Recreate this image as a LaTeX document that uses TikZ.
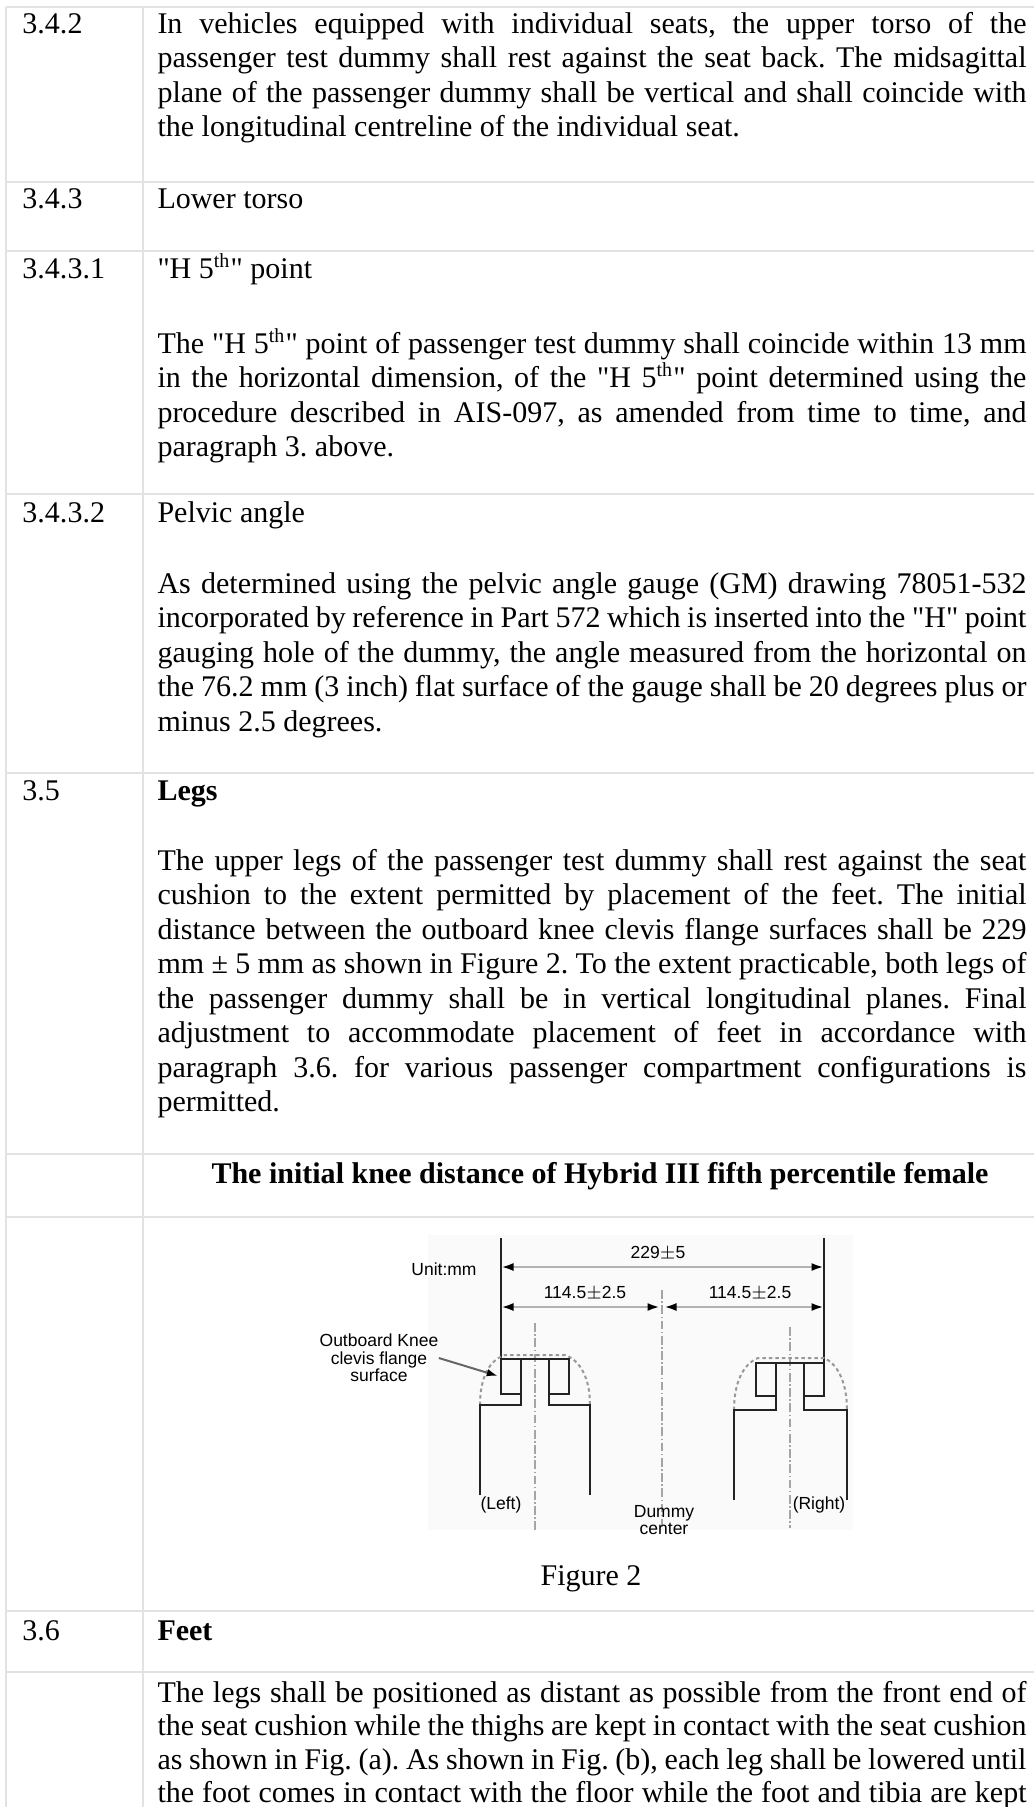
\documentclass[tikz,border=0pt]{standalone}
\usepackage{fontspec}
\setmainfont{Liberation Serif}
\newfontfamily\plainserif{Liberation Serif}
\newfontfamily\figlabelfont{Liberation Sans}
\usetikzlibrary{arrows.meta}
\definecolor{rulegray}{RGB}{226,226,226}
\definecolor{figbg}{RGB}{250,250,250}
\definecolor{dimgray}{RGB}{178,178,178}
\definecolor{cengray}{RGB}{165,165,165}
\definecolor{ink}{RGB}{35,35,35}
\newcommand\refbodyfont{\plainserif\fontsize{12}{13.8}\selectfont\frenchspacing\tolerance=10000 \hyphenpenalty=10000 }
\newcommand\refbodyfonttight{\plainserif\fontsize{12}{13.4}\selectfont\frenchspacing\tolerance=10000 \hyphenpenalty=10000 }
\begin{document}
\begin{tikzpicture}[x=0.4pt,y=-0.4pt,
  rowline/.style={draw=rulegray,line width=0.8pt},
  num/.style={anchor=base west,inner sep=0pt,font=\refbodyfont},
  body/.style={anchor=base west,inner sep=0pt,text width=347.6pt,align=justify,font=\refbodyfont},
  lbl/.style={inner sep=0pt,font=\figlabelfont\fontsize{7}{7}\selectfont,text=black},
  ext/.style={draw=ink,line width=0.9pt},
  knee/.style={draw=ink,line width=1pt},
  dimln/.style={draw=dimgray,line width=1pt,arrows={Latex[length=5pt,width=3.2pt,color=black]-Latex[length=5pt,width=3.2pt,color=black]}},
  cenln/.style={draw=cengray,line width=0.8pt,dash pattern=on 3.5pt off 1pt on 0.6pt off 1pt},
  arcln/.style={draw=gray!80,line width=0.8pt,dash pattern=on 1.4pt off 1.2pt},
  leader/.style={draw=gray!80!black,line width=0.8pt,arrows={-Latex[length=4.5pt,width=3pt,color=black]}}]
\useasboundingbox (0,0) rectangle (1034,1807);
\fill[white] (0,0) rectangle (1034,1807);

% ---------- table rules ----------
\foreach \yy in {7,182,251,494,773,1154,1217,1611,1672}
  \draw[rowline] (6,\yy) -- (1034,\yy);
\draw[rowline] (6,7) -- (6,1807);
\draw[rowline] (143,7) -- (143,1807);

% ---------- 3.4.2 ----------
\node[num] (n1) at (22,33) {3.4.2};
\node[body] (t1) at (157,33) {In vehicles equipped with individual seats, the upper torso of the\linebreak passenger test dummy shall rest against the seat back. The midsagittal\linebreak plane of the passenger dummy shall be vertical and shall coincide with\linebreak the longitudinal centreline of the individual seat.};

% ---------- 3.4.3 ----------
\node[num] (n2) at (22,208) {3.4.3};
\node[body] (t2) at (157,208) {Lower torso};

% ---------- 3.4.3.1 ----------
\node[num] (n3) at (22,278) {3.4.3.1};
\node[body] (t3) at (157,278) {"H 5\textsuperscript{th}" point};
\node[body] (t3b) at (157,353) {The "H 5\textsuperscript{th}" point of passenger test dummy shall coincide within 13 mm\linebreak in the horizontal dimension, of the "H 5\textsuperscript{th}" point determined using the\linebreak procedure described in AIS-097, as amended from time to time, and\linebreak paragraph 3. above.};

% ---------- 3.4.3.2 ----------
\node[num] (n4) at (22,522) {3.4.3.2};
\node[body] (t4) at (157,522) {Pelvic angle};
\node[body] (t4b) at (157,593) {As determined using the pelvic angle gauge (GM) drawing 78051-532\linebreak incorporated by reference in Part 572 which is inserted into the "H" point\linebreak gauging hole of the dummy, the angle measured from the horizontal on\linebreak the 76.2 mm (3 inch) flat surface of the gauge shall be 20 degrees plus or\linebreak minus 2.5 degrees.};

% ---------- 3.5 ----------
\node[num] (n5) at (22,800) {3.5};
\node[body] (t5) at (157,800) {\bfseries Legs};
\node[body] (t5b) at (157,870) {The upper legs of the passenger test dummy shall rest against the seat\linebreak cushion to the extent permitted by placement of the feet. The initial\linebreak distance between the outboard knee clevis flange surfaces shall be 229\linebreak mm ± 5 mm as shown in Figure 2. To the extent practicable, both legs of\linebreak the passenger dummy shall be in vertical longitudinal planes. Final\linebreak adjustment to accommodate placement of feet in accordance with\linebreak paragraph 3.6. for various passenger compartment configurations is\linebreak permitted.};

% ---------- title ----------
\node[anchor=base,inner sep=0pt,font=\refbodyfont\bfseries] (title) at (600,1183) {The initial knee distance of Hybrid III fifth percentile female};

% ---------- figure ----------
\fill[figbg] (428,1235) rectangle (853,1530);
\coordinate (eLt) at (501,1238); \coordinate (eLb) at (501,1359);
\coordinate (eRt) at (824,1238); \coordinate (eRb) at (824,1363);
\draw[ext] (eLt) -- (eLb);
\draw[ext] (eRt) -- (eRb);

% centre lines
\draw[cenln] (535,1323) -- (535,1530);
\draw[cenln] (662,1290) -- (662,1527);
\draw[cenln] (790,1327) -- (790,1528);

% dashed knee outlines
\draw[arcln] (480,1405) .. controls (480,1378) and (489,1360) .. (505,1355) -- (565,1355) .. controls (580,1360) and (590,1378) .. (590,1405);
\draw[arcln] (734,1410) .. controls (734,1383) and (743,1364) .. (758,1358) -- (824,1358) .. controls (838,1364) and (847,1383) .. (847,1410);

% left knee
\draw[knee] (501,1359) -- (569,1359);
\draw[knee] (501,1359) rectangle (521,1394);
\draw[knee] (549,1359) rectangle (569,1394);
\draw[knee] (480,1495) |- (521,1405) -- (521,1359);
\draw[knee] (549,1359) -- (549,1405) -| (590,1495);

% right knee
\draw[knee] (756,1363) -- (824,1363);
\draw[knee] (756,1363) rectangle (776,1396);
\draw[knee] (804,1363) rectangle (824,1396);
\draw[knee] (734,1500) |- (776,1410) -- (776,1363);
\draw[knee] (804,1363) -- (804,1410) -| (847,1500);

% dimensions
\coordinate (d1a) at (501,1267); \coordinate (d1b) at (824,1267);
\coordinate (d2a) at (501,1307); \coordinate (d2b) at (660,1307);
\coordinate (d3a) at (664,1307); \coordinate (d3b) at (824,1307);
\draw[dimln] (d1a) -- (d1b);
\draw[dimln] (d2a) -- (d2b);
\draw[dimln] (d3a) -- (d3b);

% labels
\node[lbl] (unit) at (444,1269) {Unit:mm};
\node[lbl] (d229) at (658,1253) {229$\pm$5};
\node[lbl] (dl) at (585,1293) {114.5$\pm$2.5};
\node[lbl] (dr) at (750,1293) {114.5$\pm$2.5};
\node[lbl,align=center] (okc) at (379,1358) {Outboard Knee\\clevis flange\\surface};
\coordinate (flange) at (498,1376);
\draw[leader] (okc.east) -- (flange);
\node[lbl] (lleft) at (501,1505) {(Left)};
\node[lbl] (lright) at (819,1505) {(Right)};
\node[lbl,align=center] (dcen) at (664,1520) {Dummy\\center};

\node[anchor=base,inner sep=0pt,font=\refbodyfont] (cap) at (591,1585) {Figure 2};

% ---------- 3.6 ----------
\node[num] (n6) at (22,1640) {3.6};
\node[body] (t6) at (157,1640) {\bfseries Feet};
\node[body,font=\refbodyfonttight] (t6b) at (157,1702) {The legs shall be positioned as distant as possible from the front end of\linebreak the seat cushion while the thighs are kept in contact with the seat cushion\linebreak as shown in Fig. (a). As shown in Fig. (b), each leg shall be lowered until\linebreak the foot comes in contact with the floor while the foot and tibia are kept\linebreak};
\end{tikzpicture}
\end{document}
